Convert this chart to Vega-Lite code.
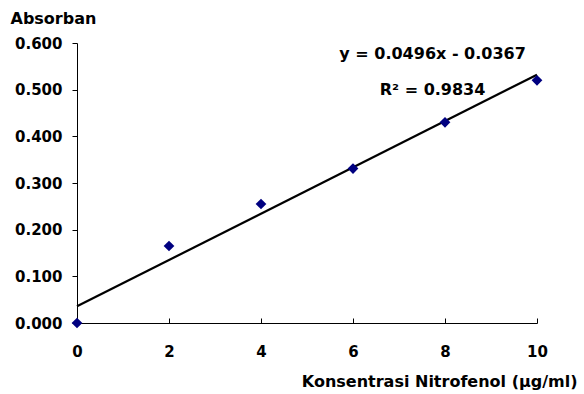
{
  "$schema": "https://vega.github.io/schema/vega-lite/v6.json",
  "autosize": "none",
  "width": 460,
  "height": 280,
  "padding": {"left": 77, "top": 43, "right": 47, "bottom": 71},
  "background": "white",
  "view": {"stroke": null},
  "config": {
    "font": "DejaVu Sans",
    "axis": {"labelFont": "DejaVu Sans", "titleFont": "DejaVu Sans", "labelFontWeight": "bold", "titleFontWeight": "bold", "labelColor": "black", "titleColor": "black", "domainColor": "black", "tickColor": "black", "grid": false, "labelFontSize": 15, "titleFontSize": 16, "labelFlush": false, "labelOverlap": false}
  },
  "datasets": {
    "points": [
      {"conc": 0, "abs": 0.000},
      {"conc": 2, "abs": 0.165},
      {"conc": 4, "abs": 0.255},
      {"conc": 6, "abs": 0.331},
      {"conc": 8, "abs": 0.430},
      {"conc": 10, "abs": 0.520}
    ],
    "trend": [
      {"conc": 0, "abs": 0.0357},
      {"conc": 10, "abs": 0.532}
    ],
    "labels": [
      {"conc": 7.73, "abs": 0.5653, "text": "y = 0.0496x - 0.0367"},
      {"conc": 7.73, "abs": 0.488, "text": "R² = 0.9834"}
    ]
  },
  "encoding": {
    "x": {
      "field": "conc", "type": "quantitative",
      "scale": {"domain": [0, 10], "nice": false, "zero": false},
      "axis": {"values": [0, 2, 4, 6, 8, 10], "format": "d", "tickSize": -5, "labelPadding": 26,
        "title": "Konsentrasi Nitrofenol (µg/ml)", "titleX": 500, "titleY": 63, "titleAlign": "right", "titleBaseline": "alphabetic", "titleAnchor": "end"}
    },
    "y": {
      "field": "abs", "type": "quantitative",
      "scale": {"domain": [0, 0.6], "nice": false},
      "axis": {"values": [0, 0.1, 0.2, 0.3, 0.4, 0.5, 0.6], "format": ".3f", "tickSize": 5, "labelPadding": 10,
        "title": "Absorban", "titleFontSize": 16, "titleAngle": 0, "titleX": -67, "titleY": -20, "titleAlign": "left", "titleBaseline": "alphabetic", "titleAnchor": "start"}
    }
  },
  "layer": [
    {
      "data": {"name": "trend"},
      "mark": {"type": "line", "color": "black", "strokeWidth": 2.2, "clip": false}
    },
    {
      "data": {"name": "points"},
      "mark": {"type": "point", "shape": "diamond", "filled": true, "color": "#000080", "opacity": 1, "size": 115, "clip": false}
    },
    {
      "data": {"name": "labels"},
      "mark": {"type": "text", "font": "DejaVu Sans", "fontWeight": "bold", "fontSize": 16, "align": "center", "baseline": "alphabetic", "color": "black"},
      "encoding": {"text": {"field": "text"}}
    }
  ]
}
